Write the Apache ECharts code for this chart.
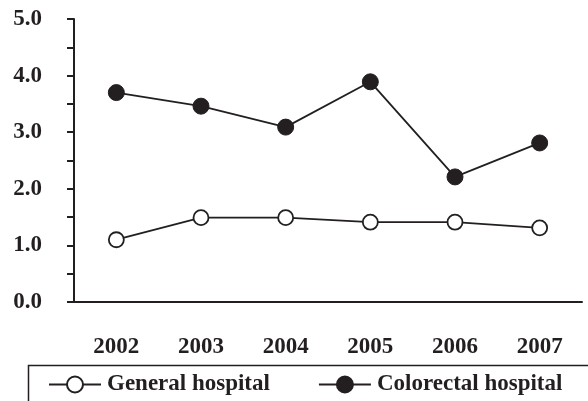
<!DOCTYPE html>
<html>
<head>
<meta charset="utf-8">
<script src="https://cdn.jsdelivr.net/npm/echarts@6/dist/echarts.min.js"></script>
<style>
  html, body { margin: 0; padding: 0; background: #fff; }
  #chart { width: 588px; height: 401px; }
</style>
</head>
<body>
<div id="chart"></div>
<script>
var years = ["2002", "2003", "2004", "2005", "2006", "2007"];
var generalHospital = [1.10, 1.49, 1.49, 1.41, 1.41, 1.31];
var colorectalHospital = [3.70, 3.46, 3.09, 3.89, 2.21, 2.81];

var font = "Liberation Serif";
var ink = "#231f20";

var myChart = echarts.init(document.getElementById("chart"));
myChart.setOption({
  animation: false,
  backgroundColor: "#fff",
  grid: { left: 74, right: 6, top: 19, bottom: 99 },
  // 图例外框
  graphic: [{
    type: "rect",
    left: 26,
    top: 363,
    shape: { width: 600, height: 60 },
    style: { fill: "none", stroke: ink, lineWidth: 1.5 }
  }],
  legend: {
    left: 26,
    top: 373,
    orient: "horizontal",
    itemWidth: 52,
    itemHeight: 20,
    itemGap: 48,
    padding: [0, 0, 0, 22],
    textStyle: { fontFamily: font, fontWeight: "bold", fontSize: 23, color: ink, padding: [0, 0, 0, 1] },
    data: ["General hospital", "Colorectal hospital"]
  },
  xAxis: {
    type: "category",
    data: years,
    boundaryGap: true,
    axisLine: { lineStyle: { color: ink, width: 2 } },
    axisTick: { show: false },
    axisLabel: { fontFamily: font, fontWeight: "bold", fontSize: 23, color: ink, margin: 34 },
    splitLine: { show: false }
  },
  yAxis: {
    type: "value",
    min: 0,
    max: 5,
    interval: 0.5,
    axisLine: { show: true, lineStyle: { color: ink, width: 2 } },
    axisTick: { show: true, length: 7, lineStyle: { color: ink, width: 2 } },
    axisLabel: {
      fontFamily: font, fontWeight: "bold", fontSize: 23, color: ink, margin: 32,
      padding: [6, 0, 0, 0],
      formatter: function (v) { return Math.abs(v % 1) < 1e-6 ? v.toFixed(1) : ""; }
    },
    splitLine: { show: false }
  },
  series: [
    {
      name: "General hospital",
      type: "line",
      data: generalHospital,
      symbol: "circle",
      symbolSize: 15,
      lineStyle: { color: ink, width: 1.8 },
      itemStyle: { color: "#fff", borderColor: ink, borderWidth: 1.8 }
    },
    {
      name: "Colorectal hospital",
      type: "line",
      data: colorectalHospital,
      symbol: "circle",
      symbolSize: 16,
      lineStyle: { color: ink, width: 1.8 },
      itemStyle: { color: ink, borderColor: ink, borderWidth: 1 }
    }
  ]
});
window.addEventListener("resize", function () { myChart.resize(); });
</script>
</body>
</html>
